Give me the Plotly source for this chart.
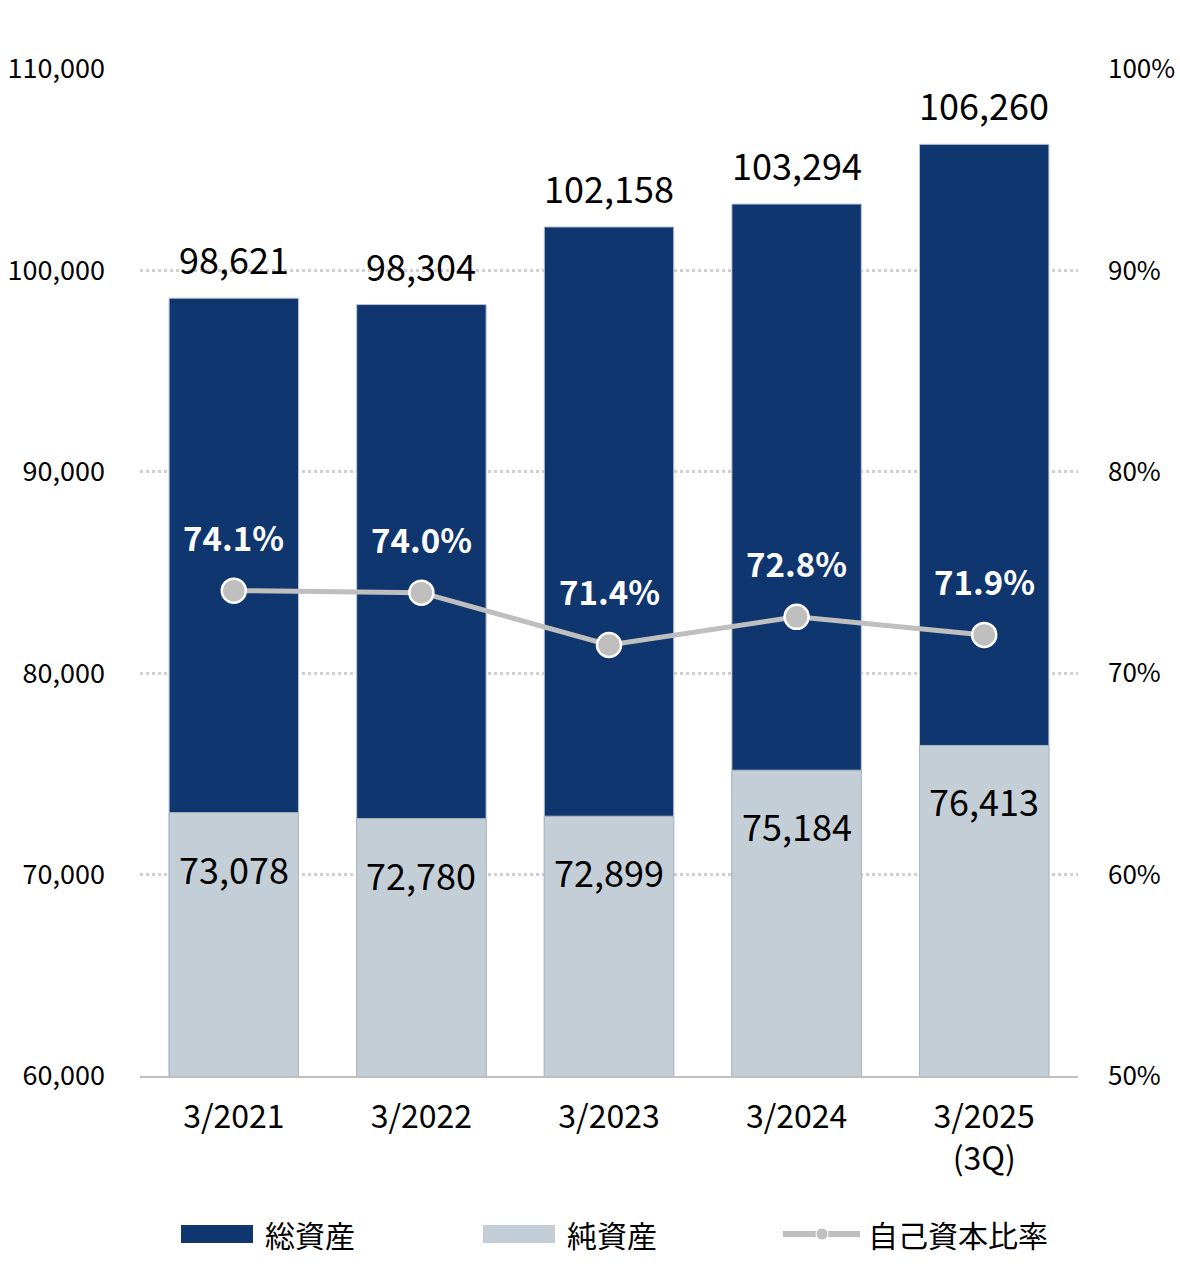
import plotly.graph_objects as go

categories = ["3/2021", "3/2022", "3/2023", "3/2024", "3/2025<br>(3Q)"]
total_assets = [98621, 98304, 102158, 103294, 106260]
net_assets = [73078, 72780, 72899, 75184, 76413]
equity_ratio = [74.1, 74.0, 71.4, 72.8, 71.9]
left_ticks = [60000, 70000, 80000, 90000, 100000, 110000]
right_ticks = [50, 60, 70, 80, 90, 100]
right_tick_labels = ["50%", "60%", "70%", "80%", "90%", "100%"]

DARK = "#10366f"
LIGHT = "#c4ced6"
LINE = "#bfbfbf"
FONT = "Noto Sans CJK JP, Noto Sans, sans-serif"

fig = go.Figure()
fig.add_trace(go.Bar(x=categories, y=total_assets, name="総資産", marker=dict(color=DARK, line=dict(color="#b8c3d6", width=1)),
                     width=0.69, hoverinfo="y"))
fig.add_trace(go.Bar(x=categories, y=net_assets, name="純資産", marker=dict(color=LIGHT, line=dict(color="#aab6c6", width=1)),
                     width=0.69, hoverinfo="y"))
fig.add_trace(go.Scatter(x=categories, y=equity_ratio, name="自己資本比率", yaxis="y2", mode="lines+markers",
                         line=dict(color=LINE, width=5),
                         marker=dict(size=24, color=LINE, line=dict(color="white", width=2.5))))

ann = []
for c, t in zip(categories, total_assets):
    ann.append(dict(x=c, y=t, xref="x", yref="y", text=f"{t:,}", showarrow=False, yanchor="middle", yshift=40,
                    font=dict(size=36, color="black", family=FONT)))
for c, n in zip(categories, net_assets):
    ann.append(dict(x=c, y=n, xref="x", yref="y", text=f"{n:,}", showarrow=False, yanchor="middle", yshift=-55,
                    font=dict(size=36, color="black", family=FONT)))
for c, r in zip(categories, equity_ratio):
    ann.append(dict(x=c, y=r, xref="x", yref="y2", text=f"<b>{r:.1f}%</b>", showarrow=False, yanchor="middle", yshift=54,
                    font=dict(size=33, color="white", family=FONT)))

# custom legend
shapes = []
leg = [(181, "総資産", "bar", DARK), (483, "純資産", "bar", LIGHT), (783, "自己資本比率", "line", LINE)]
ly = 1234
for x0, label, kind, col in leg:
    if kind == "bar":
        shapes.append(dict(type="rect", xref="paper", yref="paper",
                           x0=(x0 - 140) / 938, x1=(x0 + 72 - 140) / 938,
                           y0=(1076 - ly - 9) / 1007, y1=(1076 - ly + 9) / 1007,
                           fillcolor=col, line=dict(width=0)))
    else:
        shapes.append(dict(type="line", xref="paper", yref="paper",
                           x0=(x0 - 140) / 938, x1=(x0 + 77 - 140) / 938,
                           y0=(1076 - ly) / 1007, y1=(1076 - ly) / 1007,
                           line=dict(color=col, width=6)))
        shapes.append(dict(type="circle", xref="paper", yref="paper",
                           x0=(x0 + 33 - 140) / 938, x1=(x0 + 45 - 140) / 938,
                           y0=(1076 - ly - 6) / 1007, y1=(1076 - ly + 6) / 1007,
                           fillcolor=col, line=dict(color="white", width=1)))
    tx = x0 + (82 if kind == "bar" else 83)
    ann.append(dict(x=(tx - 140) / 938, y=(1076 - ly) / 1007, xref="paper", yref="paper", text=label,
                    showarrow=False, xanchor="left", yanchor="middle", font=dict(size=30, color="black", family=FONT)))

fig.update_layout(
    width=1180, height=1287, barmode="overlay", showlegend=False,
    margin=dict(l=140, r=102, t=69, b=211),
    plot_bgcolor="white", paper_bgcolor="white",
    font=dict(family=FONT, color="black"),
    xaxis=dict(type="category", showgrid=False, showline=True, linecolor="#bfbfbf", linewidth=2,
               tickfont=dict(size=32, color="black"), ticks="", ticklabelstandoff=12, automargin=False),
    yaxis=dict(range=[60000, 110000], tickvals=left_ticks, tickformat=",", showgrid=True,
               gridcolor="#d0d0d0", griddash="dot", gridwidth=3, zeroline=False, automargin=False,
               tickfont=dict(size=27, color="black"), ticklabelstandoff=34),
    yaxis2=dict(range=[50, 100], tickvals=right_ticks, ticktext=right_tick_labels, overlaying="y", side="right",
                showgrid=False, zeroline=False, automargin=False,
                tickfont=dict(size=26, color="black"), ticklabelstandoff=29),
    annotations=ann, shapes=shapes,
)

fig.write_html("out.html", config={"displayModeBar": False},
               post_script="document.body.style.margin='0';document.body.style.overflow='hidden';")
